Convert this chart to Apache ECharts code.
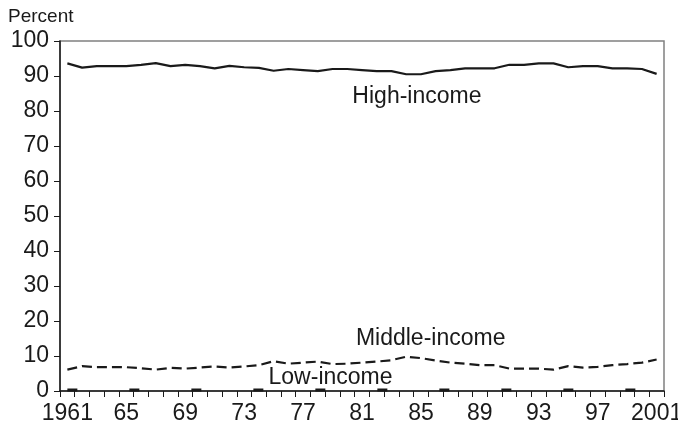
<!DOCTYPE html>
<html><head><meta charset="utf-8">
<script src="https://cdn.jsdelivr.net/npm/echarts@6/dist/echarts.min.js"></script>
<style>html,body{margin:0;padding:0;background:#fff}#c{width:678px;height:434px}</style>
</head><body><div id="c"></div>
<script>
const years = [];
for (let y = 1961; y <= 2001; y++) years.push(String(y));
const highIncome = [93.6,92.4,92.8,92.8,92.8,93.2,93.7,92.8,93.2,92.8,92.2,92.9,92.5,92.3,91.5,92.0,91.7,91.4,92.0,92.0,91.7,91.4,91.4,90.5,90.5,91.4,91.7,92.2,92.2,92.2,93.2,93.2,93.6,93.6,92.5,92.8,92.8,92.2,92.2,92.0,90.6];
const middleIncome = [6.1,7.1,6.8,6.8,6.8,6.5,6.1,6.6,6.4,6.7,7.0,6.7,7.0,7.4,8.5,7.8,8.1,8.4,7.7,7.8,8.1,8.4,8.8,9.8,9.4,8.7,8.1,7.8,7.4,7.4,6.4,6.4,6.4,6.1,7.1,6.7,6.9,7.4,7.7,8.1,9.0];
const lowIncome = [0.3,0.3,0.3,0.3,0.3,0.3,0.3,0.3,0.3,0.3,0.3,0.3,0.3,0.3,0.3,0.3,0.3,0.3,0.3,0.3,0.3,0.3,0.3,0.3,0.3,0.3,0.3,0.3,0.3,0.3,0.3,0.3,0.3,0.3,0.3,0.3,0.3,0.3,0.3,0.3,0.3];
const yTicks = [0,10,20,30,40,50,60,70,80,90,100];
const seriesNames = ['High-income','Middle-income','Low-income'];
const labelPos = [['1985', 84.1], ['1986', 14.9], ['1979', 3.9]];
const labelShift = [-4, -5, -2];

const FONT = 'Liberation Sans, Arial, sans-serif';
const chart = echarts.init(document.getElementById('c'), null, {renderer:'canvas'});
function lbl(i){
  return {
    symbol:'circle', symbolSize:1, silent:true,
    itemStyle:{color:'rgba(0,0,0,0)'},
    data:[{coord:labelPos[i], value:seriesNames[i]}],
    label:{show:true, position:'inside', offset:[labelShift[i],0], formatter:seriesNames[i], color:'#1a1a1a', fontSize:23, fontFamily:FONT}
  };
}
chart.setOption({
  animation:false,
  grid:{left:60, right:14, top:41, bottom:43, show:true, borderColor:'#808080', borderWidth:1.5, containLabel:false, outerBoundsMode:'none'},
  title:{text:'Percent', left:3, top:2, textStyle:{fontSize:19, fontWeight:'normal', color:'#1a1a1a', fontFamily:FONT}},
  xAxis:{
    type:'category', data:years, boundaryGap:true,
    axisLine:{lineStyle:{color:'#1a1a1a', width:1.5}},
    axisTick:{show:true, interval:0, length:6, lineStyle:{color:'#1a1a1a', width:1}},
    axisLabel:{interval:3, margin:11, fontSize:23, color:'#1a1a1a', fontFamily:FONT, hideOverlap:false,
      formatter:function(v){ return (v==='1961'||v==='2001') ? v : v.slice(2); }}
  },
  yAxis:{
    type:'value', min:0, max:100, interval:10,
    axisLine:{show:true, lineStyle:{color:'#1a1a1a', width:1.5}},
    axisTick:{show:true, length:6, lineStyle:{color:'#1a1a1a'}},
    splitLine:{show:false},
    axisLabel:{margin:11, fontSize:23, color:'#1a1a1a', fontFamily:FONT,
      formatter:function(v){ return yTicks.indexOf(v) >= 0 ? String(v) : ''; }}
  },
  series:[
    {name:seriesNames[0], type:'line', data:highIncome, symbol:'none', lineStyle:{color:'#1a1a1a', width:2.2}, markPoint:lbl(0), z:3},
    {name:seriesNames[1], type:'line', data:middleIncome, symbol:'none', lineStyle:{color:'#1a1a1a', width:2.2, type:[10,5]}, markPoint:lbl(1), z:3},
    {name:seriesNames[2], type:'line', data:lowIncome, symbol:'none', lineStyle:{color:'#1a1a1a', width:3, type:[10,52]}, markPoint:lbl(2), z:3}
  ]
});
</script></body></html>
